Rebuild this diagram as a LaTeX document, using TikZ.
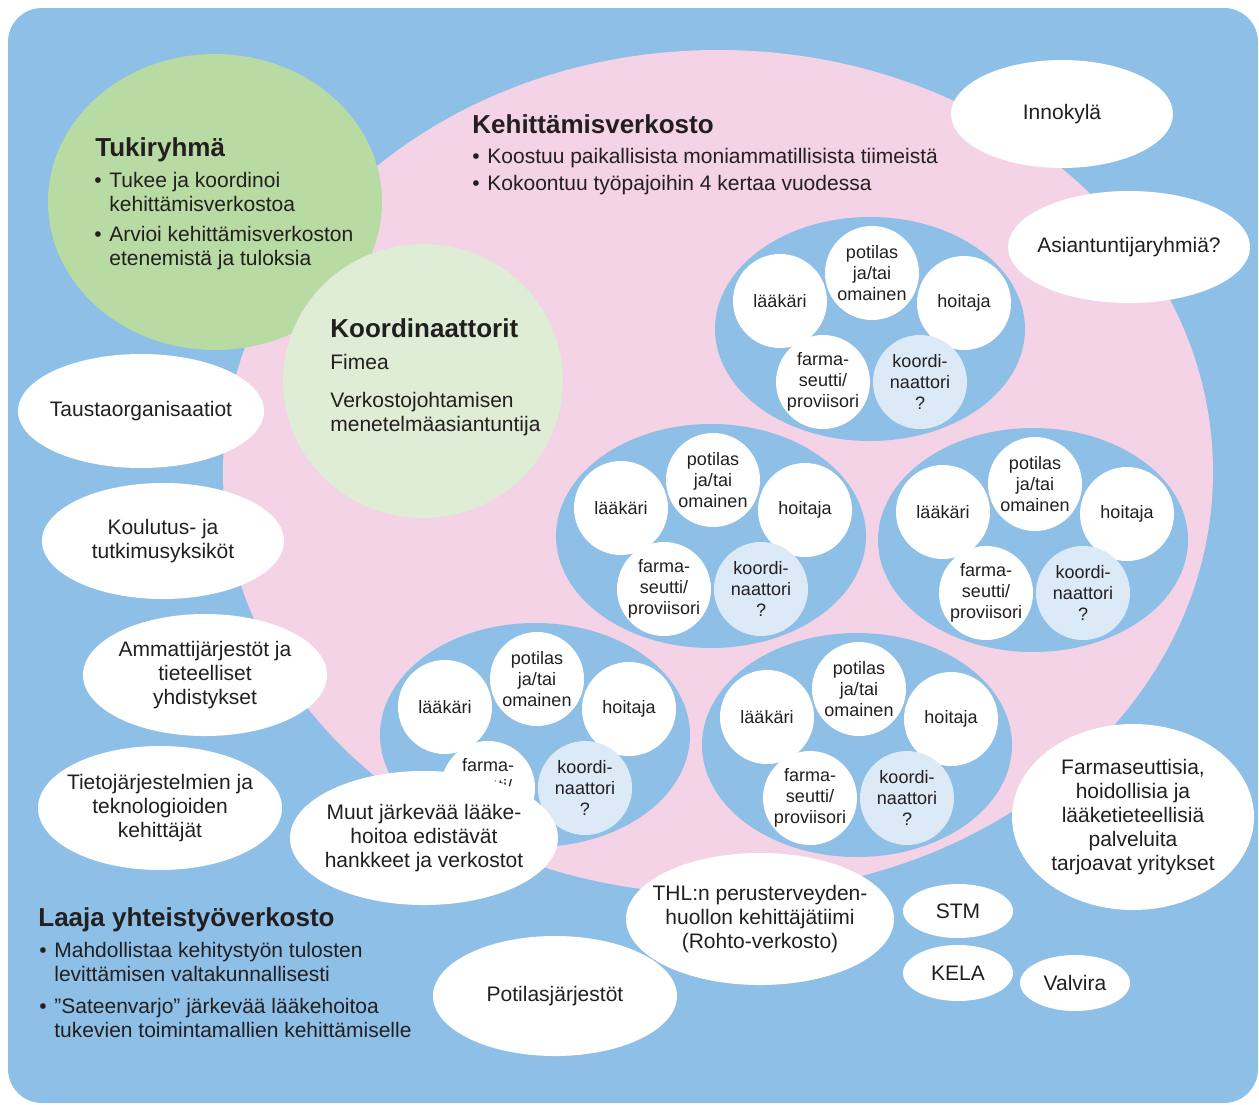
\documentclass[tikz,border=0pt]{standalone}
\usepackage{fontspec}
\setmainfont{Liberation Sans}
\usetikzlibrary{shapes.geometric}
\definecolor{bgblue}{HTML}{8EBFE6}
\definecolor{netpink}{HTML}{F3D3E5}
\definecolor{supgreen}{HTML}{B8DBA3}
\definecolor{coordgreen}{HTML}{DFECD6}
\definecolor{coordblue}{HTML}{DCE9F7}
\definecolor{ink}{HTML}{231F20}
\newcommand\bulitem{\makebox[7.5pt][l]{•}}
\newcommand\bulind{\hspace*{7.5pt}}
\tikzset{
  titletext/.style={font=\fontsize{13}{15}\selectfont\bfseries, anchor=west, inner sep=0pt, text=ink},
  paratext/.style={font=\fontsize{10.5}{12}\selectfont, align=left, anchor=west, inner sep=0pt, text=ink},
  whiteell/.style={ellipse, fill=white, inner sep=0pt},
  elltext/.style={font=\fontsize{10.5}{12}\selectfont, align=center, inner sep=0pt, text=ink},
  member/.style={circle, fill=white, minimum size=47pt, inner sep=0pt, align=center,
    font=\fontsize{9}{10.5}\selectfont, text=ink},
  coordmember/.style={member, fill=coordblue},
  teamell/.style={ellipse, fill=bgblue, minimum width=155pt, minimum height=112pt, inner sep=0pt},
  team/.pic={
    \node[teamell] (-net) at (90,28) {};
    \node[member] (-laak) at (0,0) {lääkäri};
    \node[member] (-pot) at (92,-28) {potilas\\ja/tai\\omainen};
    \node[member] (-hoit) at (184,2) {hoitaja};
    \node[member] (-farm) at (43,81) {farma-\\seutti/\\proviisori};
    \node[coordmember] (-koord) at (140,81) {koordi-\\naattori\\?};
  }
}
\begin{document}
\begin{tikzpicture}[x=0.5pt,y=-0.5pt]
\useasboundingbox (0,0) rectangle (1259,1104);
% background
\fill[bgblue, rounded corners=17pt] (8,8) rectangle (1258,1103);
% development network
\node[ellipse, fill=netpink, minimum width=495pt, minimum height=422pt, inner sep=0pt] (kehnet) at (718,472) {};
% support group
\node[ellipse, fill=supgreen, minimum width=167pt, minimum height=148pt, inner sep=0pt] (tuki) at (215,202) {};
\node[ellipse, fill=coordgreen, minimum width=140pt, minimum height=137pt, inner sep=0pt] (koord) at (423,381) {};

% teams
\pic (tA) at (780,301) {team};
\pic (tB) at (621,508) {team};
\pic (tC) at (943,512) {team};
\pic (tD) at (445,707) {team};
\pic (tE) at (767,717) {team};

% texts
\node[titletext] (tukiT) at (95,150) {Tukiryhmä};
\node[paratext] (tukiP1) at (94,192) {\bulitem Tukee ja koordinoi\\\bulind kehittämisverkostoa};
\node[paratext] (tukiP2) at (94,248) {\bulitem Arvioi kehittämisverkoston\\\bulind etenemistä ja tuloksia};

\node[titletext] (koordT) at (330,328) {Koordinaattorit};
\node[paratext] (koordP1) at (330,362) {Fimea};
\node[paratext] (koordP2) at (330,414) {Verkostojohtamisen\\menetelmäasiantuntija};

\node[titletext] (kehT) at (472,124) {Kehittämisverkosto};
\node[paratext] (kehP1) at (472,158) {\bulitem Koostuu paikallisista moniammatillisista tiimeistä};
\node[paratext] (kehP2) at (472,185) {\bulitem Kokoontuu työpajoihin 4 kertaa vuodessa};

\node[titletext] (laajaT) at (38,920) {Laaja yhteistyöverkosto};
\node[paratext] (laajaP1) at (39,962) {\bulitem Mahdollistaa kehitystyön tulosten\\\bulind levittämisen valtakunnallisesti};
\node[paratext] (laajaP2) at (39,1018) {\bulitem ”Sateenvarjo” järkevää lääkehoitoa\\\bulind tukevien toimintamallien kehittämiselle};

% white ellipses
\node[whiteell, minimum width=111pt, minimum height=54pt] (inno) at (1062,114) {};
\node[elltext] at (inno) {Innokylä};
\node[whiteell, minimum width=121pt, minimum height=56pt] (asian) at (1129,247) {};
\node[elltext] at (asian) {Asiantuntijaryhmiä?};
\node[whiteell, minimum width=123pt, minimum height=57pt] (tausta) at (141,411) {};
\node[elltext] at (tausta) {Taustaorganisaatiot};
\node[whiteell, minimum width=121pt, minimum height=58pt] (koul) at (163,541) {};
\node[elltext] at (koul) {Koulutus- ja\\tutkimusyksiköt};
\node[whiteell, minimum width=122pt, minimum height=61pt] (amm) at (205,675) {};
\node[elltext] at (amm) {Ammattijärjestöt ja\\tieteelliset\\yhdistykset};
\node[whiteell, minimum width=122pt, minimum height=62pt] (tieto) at (160,808) {};
\node[elltext] at (tieto) {Tietojärjestelmien ja\\teknologioiden\\kehittäjät};
\node[whiteell, minimum width=134pt, minimum height=67pt] (muut) at (424,838) {};
\node[elltext] at (muut) {Muut järkevää lääke-\\hoitoa edistävät\\hankkeet ja verkostot};
\node[whiteell, minimum width=134pt, minimum height=66pt] (thl) at (760,919) {};
\node[elltext] at (thl) {THL:n perusterveyden-\\huollon kehittäjätiimi\\(Rohto-verkosto)};
\node[whiteell, minimum width=55pt, minimum height=27pt] (stm) at (958,911) {};
\node[elltext] at (stm) {STM};
\node[whiteell, minimum width=55pt, minimum height=28pt] (kela) at (958,973) {};
\node[elltext] at (kela) {KELA};
\node[whiteell, minimum width=55pt, minimum height=28pt] (valv) at (1075,983) {};
\node[elltext] at (valv) {Valvira};
\node[whiteell, minimum width=121pt, minimum height=93pt] (yrit) at (1133,817) {};
\node[elltext] at (yrit) {Farmaseuttisia,\\hoidollisia ja\\lääketieteellisiä\\palveluita\\tarjoavat yritykset};
\node[whiteell, minimum width=122pt, minimum height=60pt] (potj) at (555,996) {};
\node[elltext] at (potj) {Potilasjärjestöt};
\end{tikzpicture}
\end{document}
